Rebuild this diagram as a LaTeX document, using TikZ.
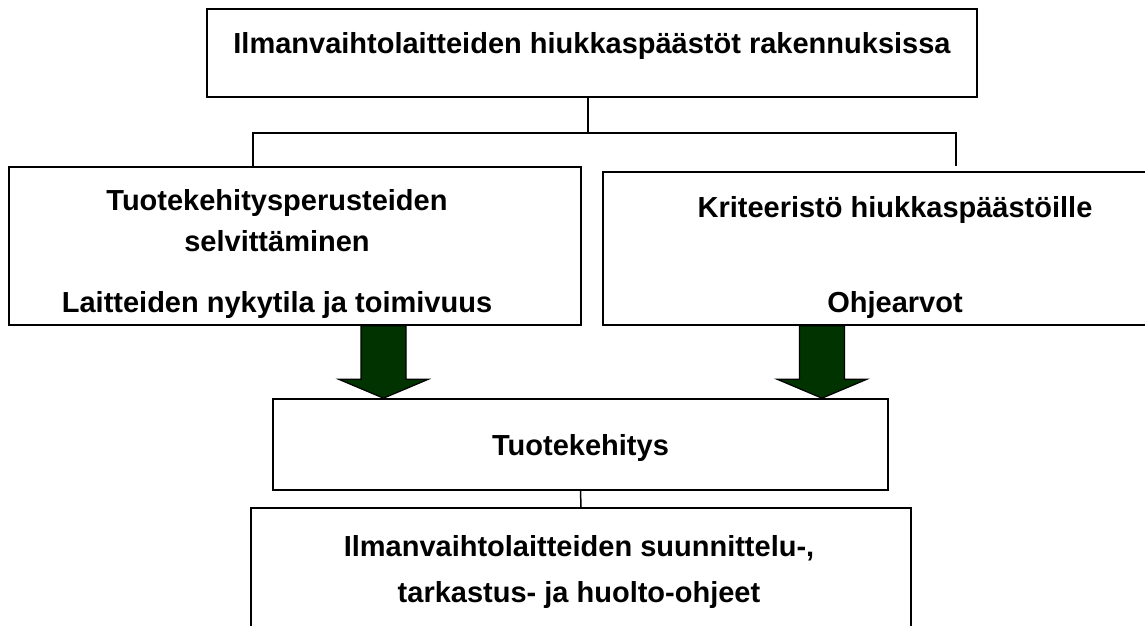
\documentclass[tikz,border=0pt]{standalone}
\usepackage{fontspec}
\setmainfont{Liberation Sans}
\usetikzlibrary{calc}

\definecolor{arrowgreen}{RGB}{0,51,0}

\tikzset{
  box/.style={draw, line width=1.6pt, rectangle, inner sep=0pt},
  boxtext/.style={font=\fontsize{29}{35}\selectfont\bfseries, anchor=base, inner sep=0pt},
  link/.style={line width=1.5pt},
  fatarrow/.style={draw=black, line width=1.2pt, fill=arrowgreen, line join=miter}
}

% thick green arrow from the bottom of #2 to the top of #3, at x = #1
\newcommand{\fatdown}[3]{%
  \coordinate (fx) at (#1,0);
  \coordinate (ft) at (fx |- #2.south);
  \coordinate (fb) at (fx |- #3.north);
  \draw[fatarrow] ($(ft)+(-22.5,0)$) -- ($(fb)+(-22.5,-19)$) -- ($(fb)+(-45,-19)$) -- (fb)
    -- ($(fb)+(45,-19)$) -- ($(fb)+(22.5,-19)$) -- ($(ft)+(22.5,0)$) -- cycle;
}

\begin{document}
\begin{tikzpicture}[x=1pt, y=-1pt]
  \useasboundingbox (0,0) rectangle (1145,625);
  \clip (0,0) rectangle (1145,625);

  % boxes
  \node[box, minimum width=770pt, minimum height=88pt] (head) at (592,53) {};
  \node[box, minimum width=572pt, minimum height=158pt] (basis) at (295,246) {};
  \node[box, minimum width=600pt, minimum height=153pt] (crit) at (903,248.5) {};
  \node[box, minimum width=615pt, minimum height=91pt] (devel) at (580.5,444.5) {};
  \node[box, minimum width=660pt, minimum height=140pt] (guide) at (581,578) {};

  % texts
  \node[boxtext] (headtxt) at (592,53) {Ilmanvaihtolaitteiden hiukkaspäästöt rakennuksissa};
  \node[boxtext] (basisa) at (277,210) {Tuotekehitysperusteiden};
  \node[boxtext] (basisb) at (277,251) {selvittäminen};
  \node[boxtext] (basisc) at (277,312) {Laitteiden nykytila ja toimivuus};
  \node[boxtext] (crita) at (895,217) {Kriteeristö hiukkaspäästöille};
  \node[boxtext] (critb) at (895,312) {Ohjearvot};
  \node[boxtext] (develtxt) at (580.5,455) {Tuotekehitys};
  \node[boxtext] (guidea) at (579,556) {Ilmanvaihtolaitteiden suunnittelu-,};
  \node[boxtext] (guideb) at (579,602) {tarkastus- ja huolto-ohjeet};

  % connectors
  \coordinate (split) at ($(head.south)+(-4,35)$);
  \path (basis.north) ++(-42,0) coordinate (lfoot);
  \path (crit.north) ++(53,-5) coordinate (rfoot);
  \draw[link] (head.south -| split) -- (split);
  \draw[link] (lfoot) |- (split) -| (rfoot);
  \draw[link] (devel.south) -- (guide.north);

  % arrows
  \fatdown{383.5}{basis}{devel}
  \fatdown{822}{crit}{devel}
\end{tikzpicture}
\end{document}
